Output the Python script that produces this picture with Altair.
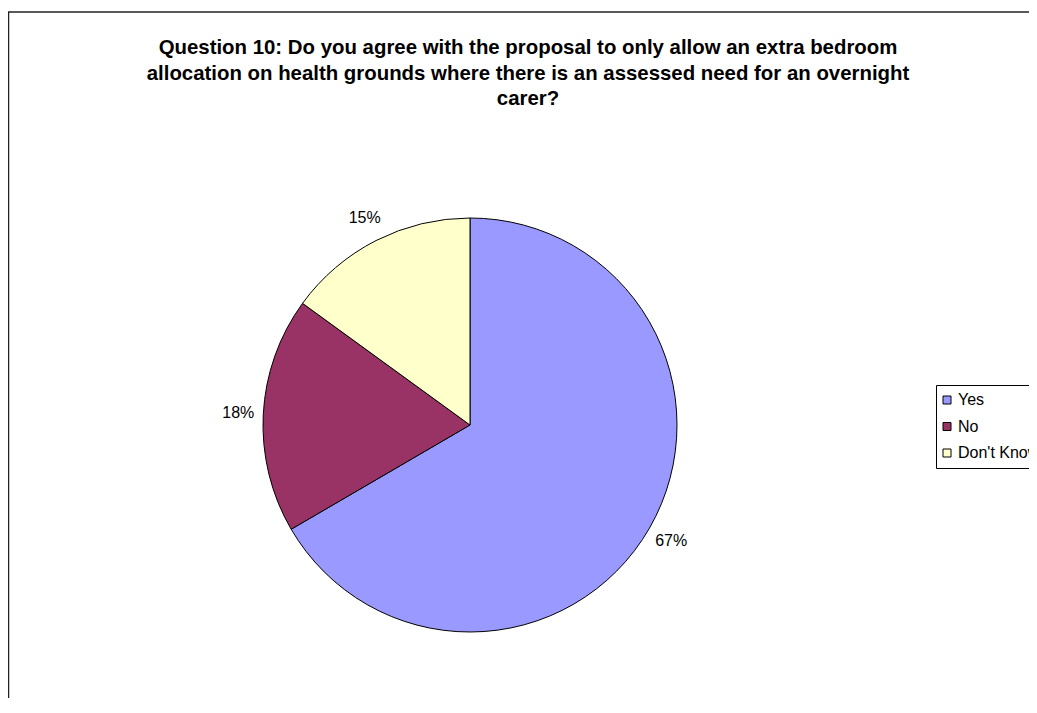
import altair as alt
import pandas as pd

categories = ["Yes", "No", "Don't Know"]
values = [66.6, 18.4, 15.0]
labels = ["67%", "18%", "15%"]
colors = ["#9999FF", "#993366", "#FFFFCC"]
title_lines = [
    "Question 10: Do you agree with the proposal to only allow an extra bedroom",
    "allocation on health grounds where there is an assessed need for an overnight",
    "carer?",
]

df = pd.DataFrame({
    "answer": categories,
    "value": values,
    "label": labels,
    "idx": list(range(len(categories))),
})

FONT = "Liberation Sans"
CX, CY = 462, 417
R = 207

theta_scale = alt.Scale(domain=[0, sum(values)])

base = alt.Chart(df).transform_window(
    cum="sum(value)", sort=[alt.SortField("idx")]
).transform_calculate(
    start="datum.cum - datum.value",
    mid="datum.cum - datum.value / 2",
)

pie = base.mark_arc(stroke="black", strokeWidth=1, outerRadius=R).encode(
    x=alt.value(CX), y=alt.value(CY),
    theta=alt.Theta("start:Q", scale=theta_scale),
    theta2="cum:Q",
    color=alt.Color(
        "answer:N",
        scale=alt.Scale(domain=categories, range=colors),
        sort=categories,
        legend=alt.Legend(
            title=None, orient="none", legendX=928, legendY=377,
            strokeColor="black", fillColor="white", padding=7,
            symbolType="square", symbolSize=64, symbolStrokeColor="black",
            symbolStrokeWidth=1, symbolOffset=-4, labelFont=FONT,
            labelFontSize=16, labelColor="black", rowPadding=10.5,
            labelOffset=3, labelLimit=300,
        ),
    ),
)

pct = base.mark_text(font=FONT, fontSize=16, color="black", radius=232).encode(
    x=alt.value(CX), y=alt.value(CY),
    theta=alt.Theta("mid:Q", scale=theta_scale),
    text="label:N",
)

title = alt.Chart(df).mark_text(
    font=FONT, fontSize=20.4, fontWeight="bold", color="black",
    align="center", baseline="alphabetic", lineHeight=25.5,
).encode(
    x=alt.value(520), y=alt.value(46), text=alt.value(title_lines)
).transform_filter(alt.datum.idx == 0)

border_top = alt.Chart(df).mark_rule(color="#222222", strokeWidth=1.5).encode(
    x=alt.value(0), x2=alt.value(1100), y=alt.value(4)
).transform_filter(alt.datum.idx == 0)
border_left = alt.Chart(df).mark_rule(color="#222222", strokeWidth=1.5).encode(
    x=alt.value(0.5), y=alt.value(4), y2=alt.value(800)
).transform_filter(alt.datum.idx == 0)

chart = alt.layer(border_top, border_left, pie, pct, title).properties(
    width=1021, height=690,
    padding=0,
    autosize=alt.AutoSizeParams(type="none"),
).configure_view(stroke=None)

chart.save("out.html", embed_options={"renderer": "svg", "actions": False})
